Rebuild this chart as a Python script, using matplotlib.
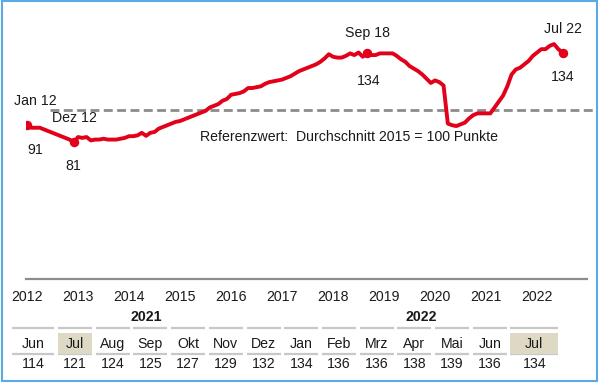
import matplotlib
matplotlib.use("Agg")
import matplotlib.pyplot as plt
from matplotlib.patches import Rectangle

plt.rcParams['font.family'] = ['Liberation Sans', 'DejaVu Sans']

# ---- data ----
v2012 = [91, 89.5, 89.5, 89.5, 88.5, 87.5, 86.5, 85.5, 84.5, 83.5, 82.5, 81]
v2013 = [84, 83.5, 84, 82, 82.5, 82.5, 83, 82.5, 82.5, 82.5, 83, 83.5]
v2014 = [84.5, 84.5, 85, 86.5, 84.7, 86.5, 87, 89, 90, 91, 92, 93]
v2015 = [93.5, 94.5, 95.5, 96.5, 97.5, 98.5, 99.5, 101.5, 102.5, 103.5, 105.5, 106.5]
v2016 = [109, 109.5, 110, 111, 113, 113, 113.5, 114, 115.5, 116.5, 117, 117.5]
v2017 = [118, 119, 120, 121.5, 123, 124, 125, 126, 127, 128.5, 130.5, 133]
v2018 = [131.5, 131, 131, 132, 133.5, 132.5, 134, 131.5, 134, 132.5, 132.5, 133.5]
v2019 = [133.5, 133.5, 133.5, 132, 130, 128.5, 126, 124.5, 123, 121, 118.5, 116]
v2020 = [117.5, 116.5, 114.5, 92, 91, 90.5, 91.5, 92.5, 95, 97, 98, 98]
v2021 = [98, 98, 101.5, 105, 108.5, 114, 121, 124, 125, 127, 129, 132]
v2022 = [134, 136, 136, 138, 139, 136, 134]
values = v2012 + v2013 + v2014 + v2015 + v2016 + v2017 + v2018 + v2019 + v2020 + v2021 + v2022
months = list(range(len(values)))

years = list(range(2012, 2023))
reference = 100
ref_label = "Referenzwert:  Durchschnitt 2015 = 100 Punkte"

# labelled points: (month index, name, value label)
ann_idx = [0, 11, 80, 126]
ann_names = ["Jan 12", "Dez 12", "Sep 18", "Jul 22"]

tbl_years = ["2021", "2022"]
tbl_months = ["Jun", "Jul", "Aug", "Sep", "Okt", "Nov", "Dez",
              "Jan", "Feb", "Mrz", "Apr", "Mai", "Jun", "Jul"]
tbl_values = [114, 121, 124, 125, 127, 129, 132, 134, 136, 136, 138, 139, 136, 134]
tbl_highlight = [1, 13]

# ---- figure ----
W, H = 600, 383
fig = plt.figure(figsize=(6.0, 3.83), dpi=100)
TXT = '#1a1a1a'
RED = '#e3001b'
FS = 10.2

ax_l, ax_r, ax_b, ax_t = 26, 587, 279, 10
ax = fig.add_axes([ax_l / W, (H - ax_b) / H, (ax_r - ax_l) / W, (ax_b - ax_t) / H])
ax.set_xlim(-0.25, 131.75)
ax.set_ylim(0, (ax_b - ax_t) / 1.69)
for s in ['top', 'right', 'left']:
    ax.spines[s].set_visible(False)
ax.spines['bottom'].set_color('#8c8c8c')
ax.spines['bottom'].set_linewidth(1.6)
ax.set_yticks([])
ax.set_xticks([12 * i for i in range(len(years))])
ax.set_xticklabels([str(y) for y in years], fontsize=FS, color=TXT)
ax.tick_params(axis='x', length=0, pad=8)
ax.patch.set_alpha(0)

ax.axhline(reference, xmin=(50 - ax_l) / (ax_r - ax_l), xmax=(597 - ax_l) / (ax_r - ax_l),
           color='#8c8c8c', lw=2.0, dashes=(3.2, 1.6), clip_on=False, zorder=2)
ax.plot(months, values, color=RED, lw=2.8, solid_joinstyle='round', zorder=3)
ax.plot([months[i] for i in ann_idx], [values[i] for i in ann_idx], 'o',
        color=RED, ms=5.8, zorder=4)

offs_name = [(8, 24), (1, 24), (0, 20), (0, 24)]
offs_val = [(8, -25), (0, -24), (2, -28), (0, -24)]
for i, nm, on, ov in zip(ann_idx, ann_names, offs_name, offs_val):
    ax.annotate(nm, (months[i], values[i]), xytext=on, textcoords='offset pixels',
                ha='center', va='center', fontsize=FS, color=TXT)
    ax.annotate(f"{values[i]:.0f}", (months[i], values[i]), xytext=ov,
                textcoords='offset pixels', ha='center', va='center', fontsize=FS, color=TXT)

ax.annotate(ref_label, (months[0], reference), xytext=(200 - 27, -27),
            textcoords='offset pixels', ha='left', va='center', fontsize=FS, color=TXT)

# ---- overlay for table & frame (pixel coordinates) ----
ov = fig.add_axes([0, 0, 1, 1])
ov.set_xlim(0, W)
ov.set_ylim(H, 0)
ov.axis('off')
ov.patch.set_alpha(0)

col_l = [12] + [58 + 37.7 * k for k in range(13)]
col_r = [54] + [58 + 37.7 * k + 34 for k in range(12)] + [558]
for k, (m, v) in enumerate(zip(tbl_months, tbl_values)):
    l, r = col_l[k], col_r[k]
    c = (l + r) / 2
    if k in tbl_highlight:
        ov.add_patch(Rectangle((l, 333), r - l, 21, facecolor='#ddd9c4', edgecolor='none', zorder=1))
    ov.plot([l, r], [328, 328], color='#c8c8c8', lw=1.6, solid_capstyle='butt', zorder=2)
    ov.plot([l, r], [353.5, 353.5], color='#c8c8c8', lw=1.6, solid_capstyle='butt', zorder=0.5)
    ov.text(c, 344, m, ha='center', va='center', fontsize=FS, color=TXT, zorder=3)
    ov.text(c, 364, str(v), ha='center', va='center', fontsize=FS, color=TXT, zorder=3)

ov.text((col_l[0] + col_r[6]) / 2, 317, tbl_years[0], ha='center', va='center',
        fontsize=FS, fontweight='bold', color=TXT)
ov.text((col_l[7] + col_r[13]) / 2, 317, tbl_years[1], ha='center', va='center',
        fontsize=FS, fontweight='bold', color=TXT)

ov.add_patch(Rectangle((1.5, 1), 595, 380, facecolor='none', edgecolor='#5aaae6', lw=1.5))

fig.savefig('out.png', dpi=100)
